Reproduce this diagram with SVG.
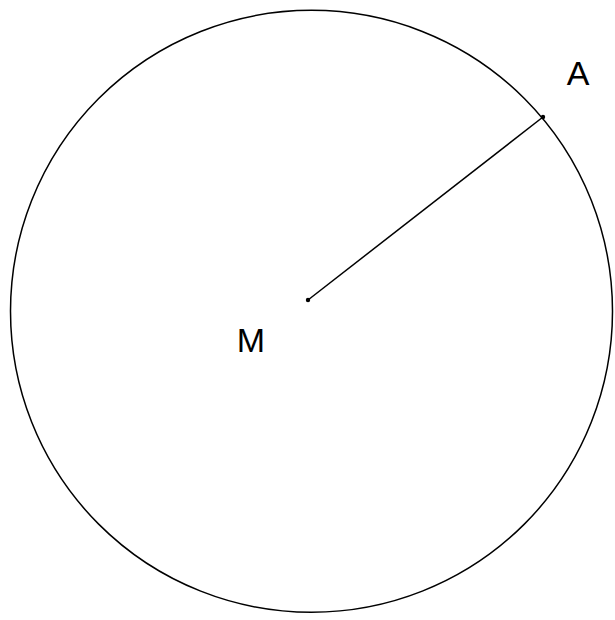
<svg xmlns="http://www.w3.org/2000/svg" width="615" height="620" viewBox="0 0 615 620">
<style>
.stroke{fill:none;stroke:#000;stroke-width:1.5}
.lbl{font-family:"Liberation Sans",Arial,sans-serif;font-size:34px;fill:#000}
.pt{fill:#000}
</style>
<rect width="615" height="620" fill="#fff"/>
<g id="circle"><circle class="stroke" cx="311.5" cy="311.3" r="301"/></g>
<g id="connectors"><line class="stroke" x1="308" y1="300" x2="543" y2="117"/></g>
<g id="M"><circle class="pt" cx="308" cy="300" r="2.2"/><text class="lbl" x="251" y="352" text-anchor="middle">M</text></g>
<g id="A"><circle class="pt" cx="543" cy="117" r="2.2"/><text class="lbl" x="578" y="85" text-anchor="middle">A</text></g>
</svg>
